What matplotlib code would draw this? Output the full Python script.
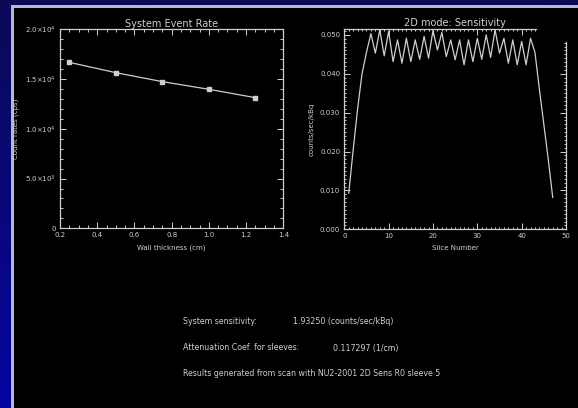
import numpy as np
import matplotlib
matplotlib.use('Agg')
import matplotlib.pyplot as plt
from matplotlib.patches import Rectangle
from matplotlib.ticker import MultipleLocator, FixedLocator, FixedFormatter

# data
wall_thickness = [0.25, 0.5, 0.75, 1.0, 1.25]
count_rates = [16680, 15640, 14740, 13970, 13130]

slice_numbers = list(range(1, 48))
sensitivity = [0.0093, 0.0204, 0.0310, 0.0400, 0.0455, 0.0503, 0.0453, 0.0513, 0.0446, 0.0509,
               0.0431, 0.0487, 0.0427, 0.0491, 0.0431, 0.0487, 0.0437, 0.0496, 0.0440, 0.0511,
               0.0461, 0.0506, 0.0444, 0.0487, 0.0436, 0.0487, 0.0423, 0.0487, 0.0431, 0.0491,
               0.0437, 0.0500, 0.0442, 0.0513, 0.0453, 0.0491, 0.0427, 0.0487, 0.0423, 0.0483,
               0.0423, 0.0491, 0.0455, 0.0360, 0.0270, 0.0180, 0.0082]

left_yticks = [0, 5000, 10000, 15000, 20000]
left_ylabels = ['0', r'5.0$\times$10$^3$', r'1.0$\times$10$^4$', r'1.5$\times$10$^4$', r'2.0$\times$10$^4$']

info_lines = [
    ('System sensitivity:', '1.93250 (counts/sec/kBq)'),
    ('Attenuation Coef. for sleeves:', '0.117297 (1/cm)'),
    ('Results generated from scan with NU2-2001 2D Sens R0 sleeve 5', ''),
]

fg = '#cfcfcf'
W, H = 578, 408

fig = plt.figure(figsize=(W / 100, H / 100), dpi=100)

# blue gradient backdrop
bg = fig.add_axes([0, 0, 1, 1], zorder=-10)
grad = np.linspace(0, 1, 256).reshape(-1, 1)
top_c = np.array([10, 10, 85]) / 255
bot_c = np.array([5, 5, 160]) / 255
img = top_c + (bot_c - top_c) * grad[..., None]
bg.imshow(img, aspect='auto', extent=[0, 1, 0, 1], origin='upper')
bg.set_xlim(0, 1)
bg.set_ylim(0, 1)
bg.axis('off')
# black panel with light edge
bg.add_patch(Rectangle((11 / W, -0.01), 1, 1 - 5 / H + 0.01, facecolor='#b8b8c8', edgecolor='none'))
bg.add_patch(Rectangle((13.5 / W, -0.01), 1, 1 - 7.5 / H + 0.01, facecolor='black', edgecolor='none'))


def style_axes(ax):
    ax.set_facecolor('black')
    for s in ax.spines.values():
        s.set_color(fg)
        s.set_linewidth(0.9)
    ax.tick_params(which='both', direction='in', colors=fg, top=True, right=True,
                   labelsize=5, width=0.7)
    ax.tick_params(which='major', length=4, pad=3)
    ax.tick_params(which='minor', length=2)


# left panel
ax1 = fig.add_axes([60 / W, 1 - 228.3 / H, (283.3 - 60) / W, (228.3 - 29.3) / H])
style_axes(ax1)
ax1.plot(wall_thickness, count_rates, color=fg, lw=0.9, marker='s', ms=2.5,
         mfc=fg, mec=fg)
ax1.set_xlim(0.2, 1.4)
ax1.set_ylim(0, 20000)
ax1.xaxis.set_minor_locator(MultipleLocator(0.05))
ax1.set_xticks([0.2, 0.4, 0.6, 0.8, 1.0, 1.2, 1.4])
ax1.set_xticklabels(['0.2', '0.4', '0.6', '0.8', '1.0', '1.2', '1.4'])
ax1.yaxis.set_major_locator(FixedLocator(left_yticks))
ax1.yaxis.set_major_formatter(FixedFormatter(left_ylabels))
ax1.yaxis.set_minor_locator(MultipleLocator(1000))
ax1.set_title('System Event Rate', color=fg, fontsize=7, pad=2)
ax1.set_xlabel('Wall thickness (cm)', color=fg, fontsize=5, labelpad=4)
ax1.set_ylabel('Count rates (cps)', color=fg, fontsize=5, labelpad=4)

# right panel
ax2 = fig.add_axes([344.3 / W, 1 - 229.3 / H, (566 - 344.3) / W, (229.3 - 29) / H])
style_axes(ax2)
ax2.plot(slice_numbers, sensitivity, color=fg, lw=0.9)
ax2.set_xlim(0, 50)
ax2.set_ylim(0, 0.0515)
ax2.xaxis.set_major_locator(MultipleLocator(10))
ax2.xaxis.set_minor_locator(MultipleLocator(1))
ax2.yaxis.set_major_locator(MultipleLocator(0.01))
ax2.yaxis.set_minor_locator(MultipleLocator(0.001))
ax2.yaxis.set_major_formatter(plt.FormatStrFormatter('%.3f'))
ax2.tick_params(which='minor', length=1.5)
ax2.spines['top'].set_bounds(0, 43.3)
ax2.spines['right'].set_bounds(0, 0.0482)
ax2.set_title('2D mode: Sensitivity', color=fg, fontsize=7, pad=2)
ax2.set_xlabel('Slice Number', color=fg, fontsize=5, labelpad=4)
ax2.set_ylabel('counts/sec/kBq', color=fg, fontsize=5, labelpad=4)

fig.canvas.draw()
for t in ax2.xaxis.get_minor_ticks() + ax2.xaxis.get_major_ticks():
    if t.get_loc() > 43.3:
        t.tick2line.set_visible(False)
for t in ax2.yaxis.get_minor_ticks() + ax2.yaxis.get_major_ticks():
    if t.get_loc() > 0.0482:
        t.tick2line.set_visible(False)

# summary text
ys = [322, 348, 373]
value_x = [293, 333, None]
for (label, value), y, vx in zip(info_lines, ys, value_x):
    fig.text(183 / W, 1 - y / H, label, color=fg, fontsize=5.7, va='center', ha='left')
    if value:
        fig.text(vx / W, 1 - y / H, value, color=fg, fontsize=5.7, va='center', ha='left')

fig.savefig('out.png', dpi=100)
